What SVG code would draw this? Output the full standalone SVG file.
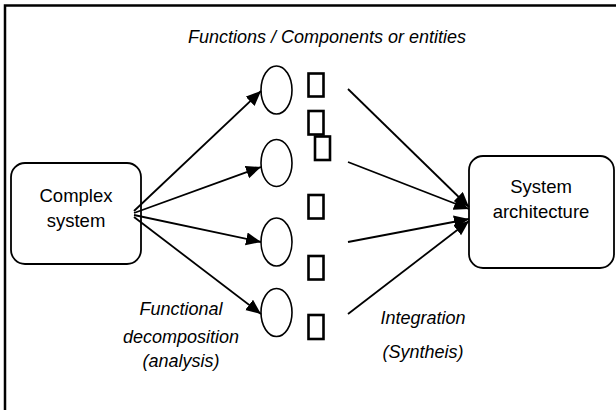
<svg xmlns="http://www.w3.org/2000/svg" width="616" height="410" viewBox="0 0 616 410">
  <style>
    .box { fill: #fff; stroke: #000; stroke-width: 1.8; }
    .ent { fill: #fff; stroke: #000; stroke-width: 1.6; }
    .cmp { fill: #fff; stroke: #000; stroke-width: 2.6; }
    .lbl { font-family: "Liberation Sans", Arial, sans-serif; font-size: 18.5px; fill: #000; text-anchor: middle; }
    .it { font-style: italic; font-size: 18px; }
    .edge { stroke: #000; stroke-width: 1.8; fill: none; }
  </style>
  <defs>
    <marker id="head" markerUnits="userSpaceOnUse" markerWidth="16" markerHeight="14" refX="15" refY="6.5" orient="auto">
      <path d="M0,0 L15,6.5 L0,13 z" fill="#000"/>
    </marker>
  </defs>

  <rect x="0" y="0" width="616" height="410" fill="#fff"/>
  <!-- outer frame -->
  <rect x="5" y="5.5" width="700" height="500" fill="none" stroke="#000" stroke-width="2.5"/>

  <text class="lbl it" x="327" y="43">Functions / Components or entities</text>

  <g id="complex-system">
    <rect class="box" x="11" y="163" width="130" height="101" rx="14"/>
    <text class="lbl" x="76" y="201.5">Complex</text>
    <text class="lbl" x="76" y="226.5">system</text>
  </g>

  <g id="system-architecture">
    <rect class="box" x="469" y="156" width="145" height="112" rx="14"/>
    <text class="lbl" x="541" y="192.5">System</text>
    <text class="lbl" x="541" y="218">architecture</text>
  </g>

  <g id="function-1"><ellipse class="ent" cx="276.5" cy="90" rx="15.5" ry="24"/></g>
  <g id="function-2"><ellipse class="ent" cx="276.5" cy="163" rx="15.5" ry="23.5"/></g>
  <g id="function-3"><ellipse class="ent" cx="276.5" cy="242" rx="15.5" ry="24"/></g>
  <g id="function-4"><ellipse class="ent" cx="276.5" cy="312.5" rx="15.5" ry="24"/></g>

  <g id="component-1"><rect class="cmp" x="308.5" y="73.5" width="15" height="23"/></g>
  <g id="component-2"><rect class="cmp" x="308.5" y="111" width="15" height="23.5"/></g>
  <g id="component-3"><rect class="cmp" x="315" y="136.5" width="15" height="23.5"/></g>
  <g id="component-4"><rect class="cmp" x="308.5" y="195" width="15" height="23.5"/></g>
  <g id="component-5"><rect class="cmp" x="308.5" y="256" width="15" height="23.5"/></g>
  <g id="component-6"><rect class="cmp" x="308.5" y="315" width="15" height="24"/></g>

  <g id="connectors">
    <line class="edge" x1="134" y1="211" x2="261" y2="91" marker-end="url(#head)"/>
    <line class="edge" x1="134" y1="213" x2="261" y2="167" marker-end="url(#head)"/>
    <line class="edge" x1="134" y1="215" x2="261" y2="242" marker-end="url(#head)"/>
    <line class="edge" x1="134" y1="217" x2="261" y2="314" marker-end="url(#head)"/>
    <line class="edge" x1="348" y1="89" x2="469" y2="207" marker-end="url(#head)"/>
    <line class="edge" x1="348" y1="162" x2="469" y2="209" marker-end="url(#head)"/>
    <line class="edge" x1="348" y1="242" x2="469" y2="219" marker-end="url(#head)"/>
    <line class="edge" x1="348" y1="314" x2="469" y2="221" marker-end="url(#head)"/>
  </g>

  <text class="lbl it" x="181" y="315">Functional</text>
  <text class="lbl it" x="181" y="342.5">decomposition</text>
  <text class="lbl it" x="181" y="366.5">(analysis)</text>

  <text class="lbl it" x="423" y="324">Integration</text>
  <text class="lbl it" x="423" y="358">(Syntheis)</text>
</svg>
